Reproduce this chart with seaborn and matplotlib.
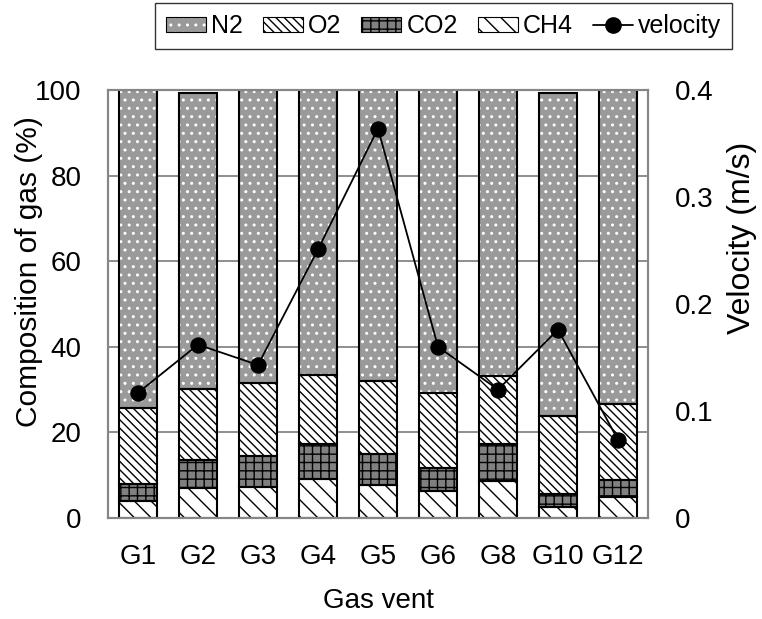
import matplotlib
matplotlib.use("Agg")
import matplotlib.pyplot as plt
from matplotlib.patches import Patch
from matplotlib.lines import Line2D
import seaborn as sns
import numpy as np

# values
vents = ['G1', 'G2', 'G3', 'G4', 'G5', 'G6', 'G8', 'G10', 'G12']
ch4 = [4.0, 6.9, 7.3, 9.2, 7.7, 6.3, 8.7, 2.6, 5.0]
co2 = [3.9, 6.7, 7.2, 8.2, 7.2, 5.3, 8.7, 2.9, 3.9]
o2 = [17.9, 16.5, 17.0, 16.0, 17.0, 17.5, 15.8, 18.4, 17.7]
n2 = [74.2, 69.3, 68.5, 66.6, 68.1, 70.9, 66.8, 75.5, 73.4]
velocity = [0.117, 0.162, 0.143, 0.251, 0.364, 0.160, 0.120, 0.176, 0.073]

sns.set_style('white', {'text.color': 'black', 'axes.labelcolor': 'black',
                        'xtick.color': 'black', 'ytick.color': 'black'})
plt.rcParams['font.family'] = ['Liberation Sans', 'DejaVu Sans']
plt.rcParams['hatch.linewidth'] = 1.0

GRAY = '#868686'

fig = plt.figure(figsize=(7.62, 6.19), dpi=100)
ax = fig.add_axes([0.1417, 0.1632, 0.7087, 0.6914])

# (label, values, facecolor, hatch, hatch colour) from bottom to top
layers = [
    ('CH4', ch4, 'white', '\\\\', 'black'),
    ('CO2', co2, '#808080', '++', 'black'),
    ('O2', o2, 'white', '\\\\\\\\', 'black'),
    ('N2', n2, '#9a9a9a', '..', 'white'),
]

bottom = np.zeros(len(vents))
for name, vals, fc, hatch, hc in layers:
    sns.barplot(x=vents, y=vals, bottom=bottom, color=fc, saturation=1,
                hatch=hatch, edgecolor=hc, linewidth=0, width=0.62,
                errorbar=None, ax=ax, zorder=2)
    sns.barplot(x=vents, y=vals, bottom=bottom, color='black', fill=False,
                edgecolor='black', linewidth=1.5, width=0.62,
                errorbar=None, ax=ax, zorder=3)
    bottom = bottom + np.array(vals)

ax.set_ylim(0, 100)
ax.set_xlim(-0.5, len(vents) - 0.5)
ax.set_yticks([0, 20, 40, 60, 80, 100])
ax.yaxis.grid(True, color=GRAY, linewidth=1.3)
ax.set_axisbelow(True)
ax.tick_params(axis='both', length=0, labelsize=20, colors='black')
ax.tick_params(axis='y', pad=19)
ax.tick_params(axis='x', pad=19)
ax.set_xlabel('Gas vent', fontsize=20, labelpad=13, color='black')
ax.set_ylabel('Composition of gas (%)', fontsize=21.5, color='black')
ax.yaxis.set_label_coords(-0.120, 0.575)
for s in ax.spines.values():
    s.set_color(GRAY)
    s.set_linewidth(1.5)

ax2 = ax.twinx()
sns.lineplot(x=np.arange(len(vents)), y=velocity, ax=ax2, color='black',
             marker='o', markersize=11, linewidth=1.3, markeredgecolor='black',
             zorder=5)
ax2.set_ylim(0, 0.4)
ax2.set_yticks([0, 0.1, 0.2, 0.3, 0.4])
ax2.set_yticklabels(['0', '0.1', '0.2', '0.3', '0.4'])
ax2.tick_params(axis='y', length=0, labelsize=20, pad=19, colors='black')
ax2.set_ylabel('Velocity (m/s)', fontsize=23, color='black')
ax2.yaxis.set_label_coords(1.146, 0.654)
for s in ax2.spines.values():
    s.set_color(GRAY)
    s.set_linewidth(1.5)

handles = []
labels = []
for name, vals, fc, hatch, hc in reversed(layers):
    h1 = Patch(facecolor=fc, hatch=hatch, edgecolor=hc, linewidth=0)
    h2 = Patch(fill=False, edgecolor='black', linewidth=0.8)
    handles.append((h1, h2))
    labels.append(name)
handles.append(Line2D([], [], color='black', marker='o', markersize=11, linewidth=1.3))
labels.append('velocity')

leg = fig.legend(handles, labels, loc='center', bbox_to_anchor=(0.582, 0.958),
                 ncol=5, fontsize=18, frameon=True, fancybox=False,
                 edgecolor='black', handlelength=1.6, handleheight=0.55,
                 handletextpad=0.2, columnspacing=0.8, borderpad=0.45,
                 borderaxespad=0)
leg.get_frame().set_linewidth(1.0)
for t in leg.get_texts():
    t.set_color('black')

fig.savefig('out.png', dpi=100)
